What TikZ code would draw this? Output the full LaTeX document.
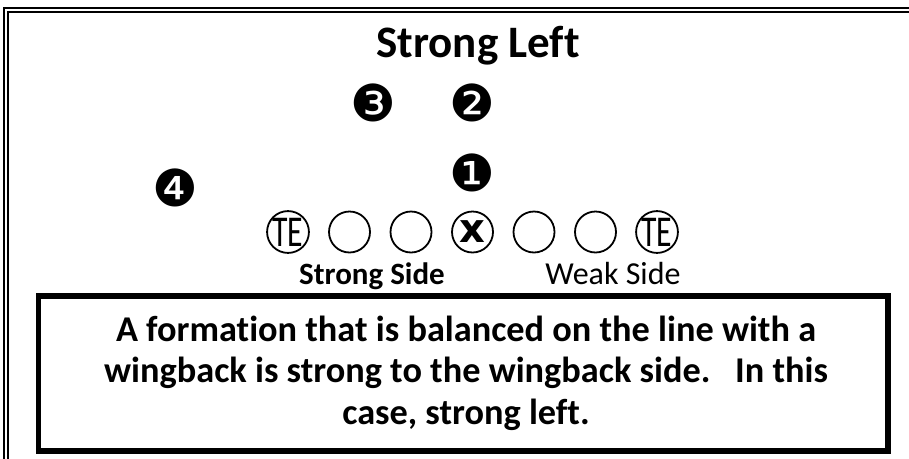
\documentclass[tikz,border=0pt]{standalone}
\usepackage{fontspec}
\setmainfont[Ligatures=NoCommon]{Carlito}
\newfontfamily\symfont{DejaVu Sans}
\usetikzlibrary{positioning}
\begin{document}
\begin{tikzpicture}[x=1pt,y=-1pt,
    player/.style={draw,circle,line width=1.8pt,minimum size=41pt,inner sep=0pt},
    back/.style={font=\symfont\fontsize{51}{51}\selectfont,inner sep=0pt},
    sidelabel/.style={font=\fontsize{32}{32}\selectfont,inner sep=0pt,anchor=base}]
        \useasboundingbox (0,0) rectangle (909,458);
        \clip (0,0) rectangle (909,458);
        \draw[line width=1.5pt] (4,8) rectangle (930,480);
        \draw[line width=1.5pt] (8,12) rectangle (926,476);
        \node[font=\bfseries\fontsize{45}{45}\selectfont,anchor=base] (title) at (478,57) {Strong Left};
        % backs
        \node[back] (b3) at (373,103) {❸};
        \node[back] (b2) at (472,103) {❷};
        \node[back] (b1) at (472,173) {❶};
        \node[back] (b4) at (175,188) {❹};
        % the line
        \node[player] (te1) at (288,232) {\fontsize{44}{44}\selectfont\scalebox{0.72}[1]{TE}};
        \node[player] (g1) at (349.5,232) {};
        \node[player] (t1) at (411,232) {};
        \node[player] (c) at (472.5,232) {\symfont\bfseries\fontsize{40}{40}\selectfont x};
        \node[player] (t2) at (534,232) {};
        \node[player] (g2) at (595.5,232) {};
        \node[player] (te2) at (657,232) {\fontsize{44}{44}\selectfont\scalebox{0.72}[1]{TE}};
        \node[sidelabel,font=\bfseries\fontsize{31}{31}\selectfont] (strong) at (372,284) {Strong Side};
        \node[sidelabel] (weak) at (613,284) {Weak Side};
        % note
        \draw[line width=5.5pt] (38.5,296) rectangle (888,451);
        \node[align=center,font=\bfseries\fontsize{36.3}{41.5}\selectfont] (note) at (466,373) {A formation that is balanced on the line with a\\wingback is strong to the wingback side.\ \ \ In this\\case, strong left.};
    \end{tikzpicture}
\end{document}
